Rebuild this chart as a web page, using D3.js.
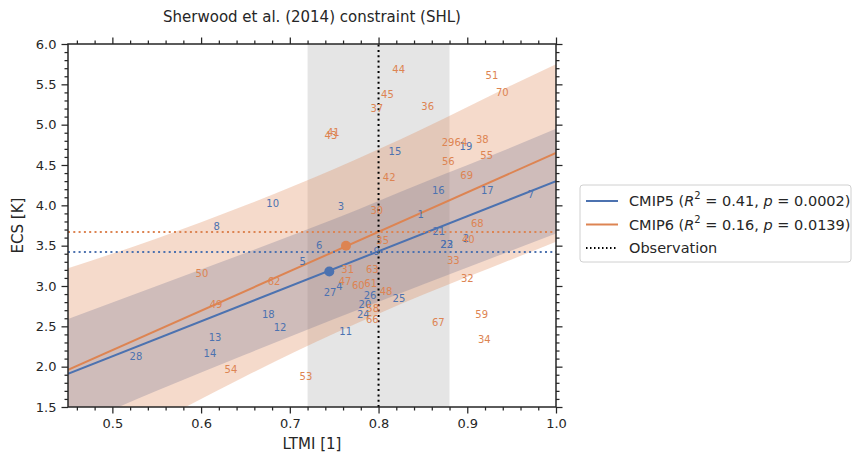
<!DOCTYPE html>
<html>
<head>
<meta charset="utf-8">
<script src="https://cdn.jsdelivr.net/npm/d3@7"></script>
<style>
  body { margin: 0; background: #fff; }
  svg { font-family: "DejaVu Sans", sans-serif; }
</style>
</head>
<body>
<svg id="chart" width="853" height="454"></svg>
<script>
// CMIP5 models: [id, LTMI, ECS]
const cmip5Models = [
  [1, 0.8475, 3.89], [2, 0.8985, 3.59], [3, 0.7577, 3.98], [4, 0.7558, 2.99],
  [5, 0.7145, 3.3], [6, 0.7332, 3.5], [7, 0.9718, 4.14], [8, 0.6176, 3.74],
  [9, 0.798, 3.43], [10, 0.6807, 4.02], [11, 0.763, 2.44], [12, 0.689, 2.49],
  [13, 0.6157, 2.36], [14, 0.61, 2.16], [15, 0.8185, 4.67], [16, 0.8673, 4.18],
  [17, 0.9226, 4.18], [18, 0.6758, 2.65], [19, 0.8985, 4.73], [20, 0.7847, 2.77],
  [21, 0.868, 3.68], [22, 0.8768, 3.51], [23, 0.877, 3.515], [24, 0.7828, 2.65],
  [25, 0.823, 2.85], [26, 0.7904, 2.88], [27, 0.7453, 2.92], [28, 0.5266, 2.12],
];
// CMIP6 models: [id, LTMI, ECS]
const cmip6Models = [
  [29, 0.8783, 4.78], [30, 0.798, 3.93], [31, 0.7652, 3.21], [32, 0.9, 3.09],
  [33, 0.8842, 3.31], [34, 0.9192, 2.34], [35, 0.8047, 3.56], [36, 0.8554, 5.22],
  [37, 0.798, 5.2], [38, 0.917, 4.81], [40, 0.9012, 3.58], [41, 0.749, 4.905],
  [42, 0.812, 4.35], [43, 0.7464, 4.87], [44, 0.8227, 5.69], [45, 0.81, 5.38],
  [47, 0.7622, 3.05], [48, 0.8084, 2.93], [49, 0.6168, 2.77], [50, 0.601, 3.16],
  [51, 0.9278, 5.61], [53, 0.7182, 1.88], [54, 0.6337, 1.96], [55, 0.9219, 4.62],
  [56, 0.8786, 4.54], [58, 0.7934, 2.72], [59, 0.9162, 2.65], [60, 0.7772, 3.01],
  [61, 0.7912, 3.03], [62, 0.6822, 3.05], [63, 0.793, 3.21], [64, 0.8929, 4.78],
  [66, 0.793, 2.59], [67, 0.8673, 2.55], [68, 0.9113, 3.77], [69, 0.8993, 4.37],
  [70, 0.9395, 5.4],
];

// regression lines and prediction bands
const fitX = [0.45, 1.0];
const cmip5Fit = [1.91, 4.3];
const cmip6Fit = [1.96, 4.65];
const bandX = [0.45, 0.55, 0.65, 0.75, 0.85, 0.95, 1.0];
const cmip5Lower = [1.23, 1.7, 2.15, 2.59, 3.02, 3.44, 3.65];
const cmip5Upper = [2.59, 3.0, 3.41, 3.83, 4.28, 4.72, 4.95];
const cmip6Lower = [0.7, 1.31, 1.88, 2.41, 2.89, 3.33, 3.55];
const cmip6Upper = [3.22, 3.59, 4.0, 4.45, 4.95, 5.49, 5.75];
const cmip5Mean = [0.7445, 3.18];
const cmip6Mean = [0.7633, 3.5];

// observation
const obsLTMI = 0.8;
const obsRange = [0.72, 0.88];
const cmip5Constrained = 3.42;
const cmip6Constrained = 3.67;

const xTickValues = [0.5, 0.6, 0.7, 0.8, 0.9, 1.0];
const yTickValues = [1.5, 2.0, 2.5, 3.0, 3.5, 4.0, 4.5, 5.0, 5.5, 6.0];
const legendLabels = [
  ["CMIP5", "0.41", "0.0002"],
  ["CMIP6", "0.16", "0.0139"],
];

const blue = "#4c72b0";
const orange = "#dd8452";
const ink = "#262626";

const svg = d3.select("#chart");
const marginLeft = 68;
const marginRight = 297;
const marginTop = 44;
const marginBottom = 47;
const width = 853;
const height = 454;

const x = d3.scaleLinear().domain([0.45, 1.0]).range([marginLeft, width - marginRight]);
const y = d3.scaleLinear().domain([1.5, 6.0]).range([height - marginBottom, marginTop]);

svg.append("defs").append("clipPath").attr("id", "plot-clip")
  .append("rect")
  .attr("x", x(0.45)).attr("y", y(6.0))
  .attr("width", x(1.0) - x(0.45)).attr("height", y(1.5) - y(6.0));

const plot = svg.append("g").attr("clip-path", "url(#plot-clip)");

// observational range
plot.append("rect")
  .attr("x", x(obsRange[0])).attr("y", y(6.0))
  .attr("width", x(obsRange[1]) - x(obsRange[0]))
  .attr("height", y(1.5) - y(6.0))
  .attr("fill", "#000").attr("fill-opacity", 0.1);

const area = (lower, upper) => d3.area()
  .x((d, i) => x(bandX[i]))
  .y0((d, i) => y(lower[i]))
  .y1((d, i) => y(upper[i]))
  .curve(d3.curveMonotoneX)(bandX);

plot.append("path").attr("d", area(cmip5Lower, cmip5Upper))
  .attr("fill", blue).attr("fill-opacity", 0.3);
plot.append("path").attr("d", area(cmip6Lower, cmip6Upper))
  .attr("fill", orange).attr("fill-opacity", 0.3);

const fitLine = (vals) => d3.line()
  .x((d, i) => x(fitX[i]))
  .y((d) => y(d))(vals);

plot.append("path").attr("d", fitLine(cmip5Fit))
  .attr("fill", "none").attr("stroke", blue).attr("stroke-width", 2);
plot.append("path").attr("d", fitLine(cmip6Fit))
  .attr("fill", "none").attr("stroke", orange).attr("stroke-width", 2);

// constrained ECS lines
[[cmip5Constrained, blue], [cmip6Constrained, orange]].forEach(([v, c]) => {
  plot.append("line")
    .attr("x1", x(0.45)).attr("x2", x(1.0))
    .attr("y1", y(v)).attr("y2", y(v))
    .attr("stroke", c).attr("stroke-width", 2)
    .attr("stroke-dasharray", "2,3.3");
});

plot.append("line")
  .attr("x1", x(obsLTMI)).attr("x2", x(obsLTMI))
  .attr("y1", y(1.5)).attr("y2", y(6.0))
  .attr("stroke", "#000").attr("stroke-width", 2)
  .attr("stroke-dasharray", "2,3.3");

// model numbers
[[cmip5Models, blue], [cmip6Models, orange]].forEach(([models, c]) => {
  plot.append("g").selectAll("text").data(models).join("text")
    .attr("x", (d) => x(d[1]))
    .attr("y", (d) => y(d[2]))
    .attr("text-anchor", "middle")
    .attr("dominant-baseline", "central")
    .attr("font-size", 10)
    .attr("fill", c)
    .text((d) => d[0]);
});

// ensemble means
[[cmip5Mean, blue], [cmip6Mean, orange]].forEach(([m, c]) => {
  plot.append("circle")
    .attr("cx", x(m[0])).attr("cy", y(m[1])).attr("r", 5)
    .attr("fill", c);
});

// axes on all four sides
const axisStyle = (g, labels) => {
  g.select(".domain").remove();
  g.selectAll(".tick line").attr("stroke", ink).attr("stroke-width", 1.25);
  g.selectAll(".tick text").attr("fill", ink).attr("font-size", 13)
    .style("font-family", '"DejaVu Sans", sans-serif');
  if (!labels) g.selectAll(".tick text").remove();
};
const xMinor = d3.range(0.46, 1.0001, 0.02).filter((v) => !xTickValues.some((t) => Math.abs(t - v) < 1e-6));
const yMinor = d3.range(1.6, 6.0001, 0.1).filter((v) => !yTickValues.some((t) => Math.abs(t - v) < 1e-6));

[["bottom", d3.axisBottom, y(1.5), true], ["top", d3.axisTop, y(6.0), false]].forEach(([k, fn, pos, lab]) => {
  svg.append("g").attr("transform", `translate(0,${pos})`)
    .call(fn(x).tickValues(xMinor).tickSize(3.5).tickFormat(""))
    .call((g) => axisStyle(g, false));
  svg.append("g").attr("transform", `translate(0,${pos})`)
    .call(fn(x).tickValues(xTickValues).tickSize(6.5).tickPadding(5).tickFormat(d3.format(".1f")))
    .call((g) => axisStyle(g, lab));
});
[["left", d3.axisLeft, x(0.45), true], ["right", d3.axisRight, x(1.0), false]].forEach(([k, fn, pos, lab]) => {
  svg.append("g").attr("transform", `translate(${pos},0)`)
    .call(fn(y).tickValues(yMinor).tickSize(3.5).tickFormat(""))
    .call((g) => axisStyle(g, false));
  svg.append("g").attr("transform", `translate(${pos},0)`)
    .call(fn(y).tickValues(yTickValues).tickSize(6.5).tickPadding(5).tickFormat(d3.format(".1f")))
    .call((g) => axisStyle(g, lab));
});

svg.append("rect")
  .attr("x", x(0.45)).attr("y", y(6.0))
  .attr("width", x(1.0) - x(0.45)).attr("height", y(1.5) - y(6.0))
  .attr("fill", "none").attr("stroke", ink).attr("stroke-width", 1.5);

// titles
svg.append("text")
  .attr("x", (x(0.45) + x(1.0)) / 2).attr("y", 22)
  .attr("text-anchor", "middle").attr("font-size", 15).attr("fill", ink)
  .text("Sherwood et al. (2014) constraint (SHL)");
svg.append("text")
  .attr("x", (x(0.45) + x(1.0)) / 2).attr("y", 449)
  .attr("text-anchor", "middle").attr("font-size", 15).attr("fill", ink)
  .text("LTMI [1]");
svg.append("text")
  .attr("transform", `translate(23,${(y(1.5) + y(6.0)) / 2}) rotate(-90)`)
  .attr("text-anchor", "middle").attr("font-size", 15).attr("fill", ink)
  .text("ECS [K]");

// legend
const legend = svg.append("g").attr("transform", "translate(580,185)");
legend.append("rect")
  .attr("x", 0).attr("y", 0).attr("width", 271).attr("height", 77)
  .attr("rx", 3).attr("fill", "#fff").attr("stroke", "#d0d0d0");
const rows = [
  { color: blue, dash: null, label: legendLabels[0] },
  { color: orange, dash: null, label: legendLabels[1] },
  { color: "#000", dash: "1.5,2.5", label: null },
];
rows.forEach((r, i) => {
  const cy = 16 + i * 23.5;
  legend.append("line")
    .attr("x1", 6).attr("x2", 38).attr("y1", cy).attr("y2", cy)
    .attr("stroke", r.color).attr("stroke-width", 2)
    .attr("stroke-dasharray", r.dash);
  const t = legend.append("text")
    .attr("x", 49).attr("y", cy).attr("dominant-baseline", "central")
    .attr("font-size", 14.5).attr("fill", ink);
  if (r.label) {
    t.append("tspan").text(`${r.label[0]} (`);
    t.append("tspan").attr("font-style", "italic").text("R");
    t.append("tspan").attr("font-size", 10).attr("dy", -6).text("2");
    t.append("tspan").attr("dy", 6).text(` = ${r.label[1]}, `);
    t.append("tspan").attr("font-style", "italic").text("p");
    t.append("tspan").text(` = ${r.label[2]})`);
  } else {
    t.text("Observation");
  }
});
</script>
</body>
</html>
